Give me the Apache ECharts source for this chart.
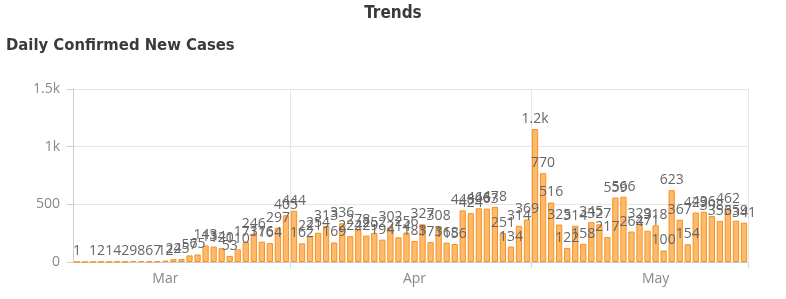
<!DOCTYPE html>
<html><head><meta charset="utf-8">
<script src="https://cdn.jsdelivr.net/npm/echarts@6/dist/echarts.min.js"></script>
<style>html,body{margin:0;padding:0;background:#fff}#c{width:786px;height:299px}</style>
</head><body><div id="c"></div>
<script>
const dates = [
 '3/5','3/6','3/7','3/8','3/9','3/10','3/11','3/12','3/13','3/14','3/15','3/16','3/17','3/18','3/19','3/20','3/21','3/22','3/23','3/24','3/25','3/26','3/27','3/28','3/29','3/30','3/31',
 '4/1','4/2','4/3','4/4','4/5','4/6','4/7','4/8','4/9','4/10','4/11','4/12','4/13','4/14','4/15','4/16','4/17','4/18','4/19','4/20','4/21','4/22','4/23','4/24','4/25','4/26','4/27','4/28','4/29','4/30',
 '5/1','5/2','5/3','5/4','5/5','5/6','5/7','5/8','5/9','5/10','5/11','5/12','5/13','5/14','5/15','5/16','5/17','5/18','5/19','5/20','5/21','5/22','5/23','5/24','5/25','5/26','5/27'
];
const newCases = [
 1,0,1,2,1,4,2,9,8,6,7,12,24,25,57,65,143,134,120,53,110,173,246,176,164,297,405,
 444,162,221,254,313,169,336,224,278,229,252,194,302,214,256,183,327,173,308,168,156,448,424,466,463,478,251,134,314,369,
 1153,770,516,325,122,314,158,345,327,217,559,566,264,329,271,318,100,623,367,154,429,436,398,356,462,359,341
];
const monthLabelDates = ['3/16','4/16','5/16'];
const monthNames = {'3':'Mar','4':'Apr','5':'May'};
const yTickValues = [0,500,1000,1500];
const yTickLabels = ['0','500','1k','1.5k'];

const isMonthStart = (i, v) => v.split('/')[1] === '1';
const chart = echarts.init(document.getElementById('c'), null, {renderer:'canvas'});
chart.setOption({
  animation:false,
  title:[
    {text:'Trends', left:'center', top:0, textStyle:{fontFamily:'"DejaVu Sans Condensed", "Roboto"', fontSize:17, fontWeight:'bold', color:'#3a3a3a'}},
    {text:'Daily Confirmed New Cases', left:1, top:32, textStyle:{fontFamily:'"DejaVu Sans Condensed", "Roboto"', fontSize:16.5, fontWeight:'bold', color:'#3a3a3a'}}
  ],
  grid:{left:73, right:38, top:89, bottom:37, containLabel:false},
  xAxis:{
    type:'category', data:dates, boundaryGap:true,
    axisLine:{show:true, lineStyle:{color:'#cccccc'}},
    axisTick:{show:true, interval:isMonthStart, length:6, lineStyle:{color:'#d9d9d9'}},
    splitLine:{show:true, interval:isMonthStart, lineStyle:{color:'#e6e6e6'}},
    axisLabel:{interval:(i,v)=>monthLabelDates.includes(v), formatter:v=>monthNames[v.split('/')[0]], color:'#888', fontSize:14, fontFamily:'Open Sans', margin:10}
  },
  yAxis:{
    type:'value', min:0, max:1500, interval:500,
    axisLine:{show:true, lineStyle:{color:'#cccccc'}},
    axisTick:{show:true, length:6, lineStyle:{color:'#cccccc'}},
    splitLine:{show:true, lineStyle:{color:'#e6e6e6'}},
    axisLabel:{color:'#888', fontSize:14, fontFamily:'Open Sans', margin:13,
      formatter:v=>yTickLabels[yTickValues.indexOf(v)]}
  },
  series:[{
    type:'bar', data:newCases, barCategoryGap:'22%',
    itemStyle:{color:'#FFB96B', borderColor:'#F39325', borderWidth:1},
    label:{show:true, position:'top', distance:3, color:'#666', fontSize:14, fontFamily:'Open Sans',
      formatter:p=>p.value===0?'':(p.value>=1000?(p.value/1000).toFixed(1)+'k':String(p.value))}
  }]
});
</script></body></html>
